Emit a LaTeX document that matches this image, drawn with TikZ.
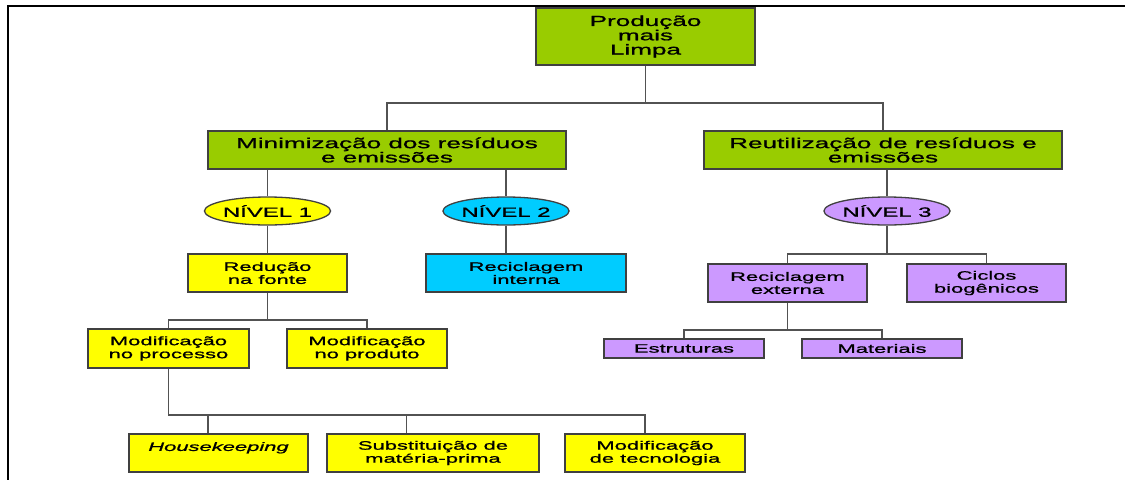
\documentclass[tikz,border=0pt]{standalone}
\usepackage{fontspec}
\setmainfont[FakeStretch=1.8, FakeBold=1]{Liberation Sans}
\usetikzlibrary{shapes.geometric}

\definecolor{pgreen}{HTML}{99CC00}
\definecolor{pyellow}{HTML}{FFFF00}
\definecolor{pcyan}{HTML}{00CCFF}
\definecolor{ppurple}{HTML}{CC99FF}

\begin{document}
\begin{tikzpicture}[x=1pt,y=-1pt,
  box/.style={draw=black!75, line width=1.6pt, align=center, inner sep=0pt, text=black},
  bigbox/.style={box, font=\fontsize{14.5}{14.3}\selectfont},
  smallbox/.style={box, font=\fontsize{12.2}{13}\selectfont},
  level/.style={ellipse, draw=black!75, line width=1.3pt, minimum width=120pt,
                minimum height=28pt, inner sep=0pt, font=\fontsize{13.3}{14}\selectfont},
  link/.style={draw=black!68, line width=1.9pt},
]
\useasboundingbox (0,0) rectangle (1125,480);

% page frame (top and left edges)
\draw[black, line width=1.6pt] (1125,6) -- (8,6) -- (8,480);

% root
\node[bigbox, fill=pgreen, minimum width=219pt, minimum height=57pt] (pml) at (645.5,36.5)
  {Produção\\mais\\Limpa};

% second level
\node[bigbox, fill=pgreen, minimum width=358pt, minimum height=38pt] (min) at (387,150)
  {Minimização dos resíduos\\e emissões};
\node[bigbox, fill=pgreen, minimum width=358pt, minimum height=38pt] (reu) at (883,150)
  {Reutilização de resíduos e\\emissões};

% levels
\node[level, fill=pyellow] (n1) at (267.5,211) {NÍVEL 1};
\node[level, fill=pcyan]   (n2) at (506,211)   {NÍVEL 2};
\node[level, fill=ppurple] (n3) at (887,211)   {NÍVEL 3};

% level 1 branch
\node[smallbox, fill=pyellow, minimum width=159pt, minimum height=38pt] (red) at (267.5,273)
  {Redução\\na fonte};
\node[smallbox, fill=pyellow, minimum width=161pt, minimum height=39pt] (mpr) at (168.5,348.5)
  {Modificação\\no processo};
\node[smallbox, fill=pyellow, minimum width=160pt, minimum height=39pt] (mpd) at (367,348.5)
  {Modificação\\no produto};
\node[smallbox, fill=pyellow, minimum width=179pt, minimum height=38pt] (hk) at (218.5,453)
  {\textit{Housekeeping}\\\mbox{}};
\node[smallbox, fill=pyellow, minimum width=212pt, minimum height=38pt] (sub) at (433,453)
  {Substituição de\\matéria-prima};
\node[smallbox, fill=pyellow, minimum width=180pt, minimum height=38pt] (tec) at (655,453)
  {Modificação\\de tecnologia};

% level 2 branch
\node[smallbox, fill=pcyan, minimum width=200pt, minimum height=38pt] (rint) at (526,273)
  {Reciclagem\\interna};

% level 3 branch
\node[smallbox, fill=ppurple, minimum width=159pt, minimum height=38pt] (rext) at (787.5,283)
  {Reciclagem\\externa};
\node[smallbox, fill=ppurple, minimum width=159pt, minimum height=38pt] (cic) at (986.5,283)
  {Ciclos\\biogênicos};
\node[smallbox, fill=ppurple, minimum width=160pt, minimum height=19pt] (est) at (684,348.5)
  {Estruturas};
\node[smallbox, fill=ppurple, minimum width=160pt, minimum height=19pt] (mat) at (882,348.5)
  {Materiais};

% junction points of the tree
\coordinate (b1) at (645.5,103);
\coordinate (b3) at (887,254);
\coordinate (b4) at (787.5,330);
\coordinate (b5) at (267.5,320);
\coordinate (b6) at (168.5,415);
\coordinate (hkx) at ([xshift=-10.5pt]hk.north);
\coordinate (subx) at ([xshift=-26.5pt]sub.north);
\coordinate (tecx) at ([xshift=-10pt]tec.north);

% connectors
\draw[link] (pml.south) -- (b1);
\draw[link] (min.north) -- (min.north |- b1) -- (reu.north |- b1) -- (reu.north);

\draw[link] (n1.north |- min.south) -- (n1.north);
\draw[link] (n2.north |- min.south) -- (n2.north);
\draw[link] (n3.north |- reu.south) -- (n3.north);

\draw[link] (n1.south) -- (red.north);
\draw[link] (n2.south) -- (n2.south |- rint.north);

\draw[link] (n3.south) -- (b3);
\draw[link] (rext.north) -- (rext.north |- b3) -- (cic.north |- b3) -- (cic.north);

\draw[link] (rext.south) -- (b4);
\draw[link] (est.north) -- (est.north |- b4) -- (mat.north |- b4) -- (mat.north);

\draw[link] (red.south) -- (b5);
\draw[link] (mpr.north) -- (mpr.north |- b5) -- (mpd.north |- b5) -- (mpd.north);

\draw[link] (mpr.south) -- (b6) -- (tecx |- b6) -- (tecx);
\draw[link] (hkx |- b6) -- (hkx);
\draw[link] (subx |- b6) -- (subx);
\end{tikzpicture}
\end{document}
